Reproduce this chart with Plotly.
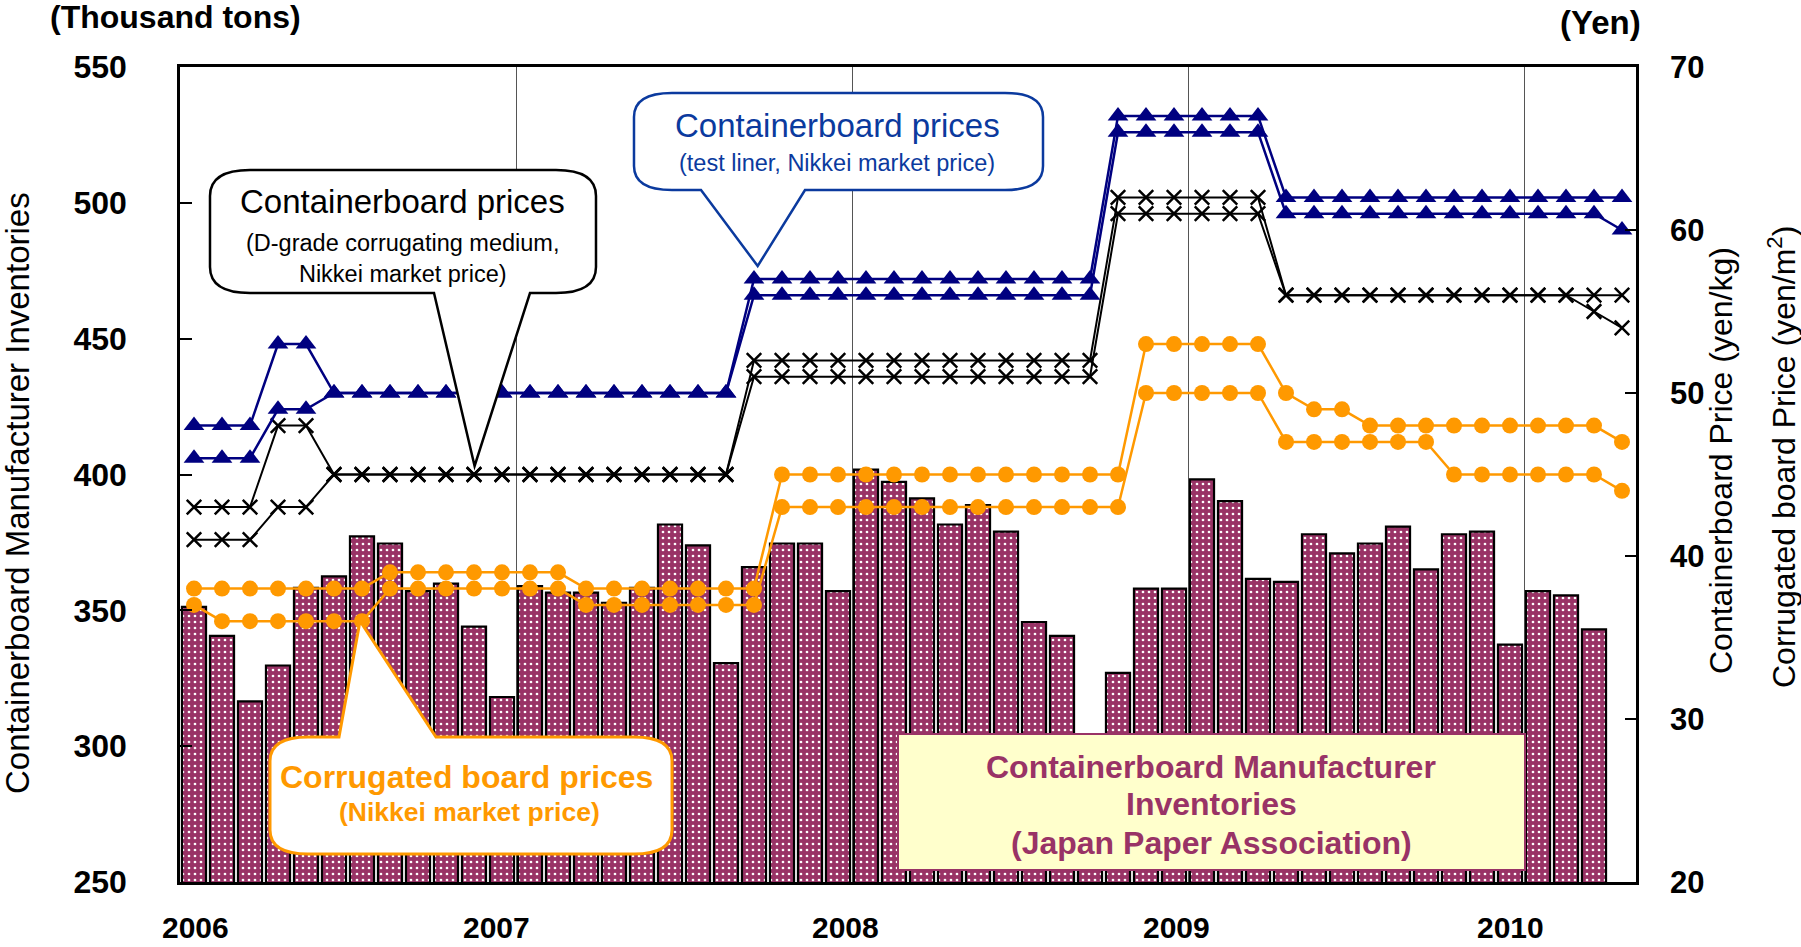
import plotly.graph_objects as go

# ---------------- data ----------------
months = [f"{y}-{m:02d}" for y in range(2006, 2011) for m in range(1, 13)][:52]

# Containerboard manufacturer inventories (thousand tons), Jan 2006 - Mar 2010
inventory = [351.3, 340.6, 316.5, 329.7, 358.3, 362.5, 377.2, 374.6, 357.1, 359.8, 344.0, 318.1,
             358.9, 356.5, 356.5, 352.8, 358.3, 381.6, 373.9, 330.6, 365.9, 374.6, 374.6, 357.1,
             401.8, 397.3, 391.2, 381.6, 388.7, 379.0, 345.7, 340.6, 300.0, 327.0, 358.0, 358.0,
             398.2, 390.2, 361.6, 360.5, 378.0, 371.0, 374.6, 380.8, 365.1, 378.0, 379.0, 337.4,
             357.1, 355.5, 343.0]

# Test liner (yen/kg), high / low
liner_high = [48, 48, 48, 53, 53, 50, 50, 50, 50, 50, 50, 50,
              50, 50, 50, 50, 50, 50, 50, 50, 57, 57, 57, 57,
              57, 57, 57, 57, 57, 57, 57, 57, 57, 67, 67, 67,
              67, 67, 67, 62, 62, 62, 62, 62, 62, 62, 62, 62,
              62, 62, 62, 62]
liner_low = [46, 46, 46, 49, 49, 50, 50, 50, 50, 50, 50, 50,
             50, 50, 50, 50, 50, 50, 50, 50, 56, 56, 56, 56,
             56, 56, 56, 56, 56, 56, 56, 56, 56, 66, 66, 66,
             66, 66, 66, 61, 61, 61, 61, 61, 61, 61, 61, 61,
             61, 61, 61, 60]

# D-grade corrugating medium (yen/kg), high / low
medium_high = [43, 43, 43, 48, 48, 45, 45, 45, 45, 45, 45, 45,
               45, 45, 45, 45, 45, 45, 45, 45, 52, 52, 52, 52,
               52, 52, 52, 52, 52, 52, 52, 52, 52, 62, 62, 62,
               62, 62, 62, 56, 56, 56, 56, 56, 56, 56, 56, 56,
               56, 56, 56, 56]
medium_low = [41, 41, 41, 43, 43, 45, 45, 45, 45, 45, 45, 45,
              45, 45, 45, 45, 45, 45, 45, 45, 51, 51, 51, 51,
              51, 51, 51, 51, 51, 51, 51, 51, 51, 61, 61, 61,
              61, 61, 61, 56, 56, 56, 56, 56, 56, 56, 56, 56,
              56, 56, 55, 54]

# Corrugated board (yen/m2), high / low
board_high = [38, 38, 38, 38, 38, 38, 38, 39, 39, 39, 39, 39,
              39, 39, 38, 38, 38, 38, 38, 38, 38, 45, 45, 45,
              45, 45, 45, 45, 45, 45, 45, 45, 45, 45, 53, 53,
              53, 53, 53, 50, 49, 49, 48, 48, 48, 48, 48, 48,
              48, 48, 48, 47]
board_low = [37, 36, 36, 36, 36, 36, 36, 38, 38, 38, 38, 38,
             38, 38, 37, 37, 37, 37, 37, 37, 37, 43, 43, 43,
             43, 43, 43, 43, 43, 43, 43, 43, 43, 43, 50, 50,
             50, 50, 50, 47, 47, 47, 47, 47, 47, 45, 45, 45,
             45, 45, 45, 44]

year_labels = ["2006", "2007", "2008", "2009", "2010"]
year_label_pos = [0.05, 10.8, 23.25, 35.1, 47.0]
year_bounds = [11.5, 23.5, 35.5, 47.5]
left_ticks = [250, 300, 350, 400, 450, 500, 550]
right_ticks = [20, 30, 40, 50, 60, 70]

# ---------------- layout helpers ----------------
W, H = 1801, 947
L, R, T, B = 180, 1636, 67, 882


def px(x):
    return (x - L) / (R - L)


def py(y):
    return (B - y) / (B - T)


def P(x, y):
    return f"{px(x):.5f},{py(y):.5f}"


def callout(x0, y0, x1, y1, rx, ry, base, tip, side):
    bl, br = base
    tx, ty = tip
    d = f"M {P(x0 + rx, y0)} "
    if side == "top":
        d += f"L {P(bl, y0)} L {P(tx, ty)} L {P(br, y0)} "
    d += (f"L {P(x1 - rx, y0)} Q {P(x1, y0)} {P(x1, y0 + ry)} "
          f"L {P(x1, y1 - ry)} Q {P(x1, y1)} {P(x1 - rx, y1)} ")
    if side == "bottom":
        d += f"L {P(br, y1)} L {P(tx, ty)} L {P(bl, y1)} "
    d += (f"L {P(x0 + rx, y1)} Q {P(x0, y1)} {P(x0, y1 - ry)} "
          f"L {P(x0, y0 + ry)} Q {P(x0, y0)} {P(x0 + rx, y0)} Z")
    return d


ARIAL = "Liberation Sans, Arial, sans-serif"
NAVY = "#000080"
ORANGE = "#FF9900"
MAROON = "#993366"
BLUE_TXT = "#0B3A9E"

x_all = list(range(len(months)))

fig = go.Figure()

fig.add_trace(go.Bar(
    x=x_all[:len(inventory)], y=inventory, width=0.86,
    marker=dict(color=MAROON, line=dict(color="black", width=2.2),
                pattern=dict(shape=".", fgcolor="white", bgcolor=MAROON,
                             size=6, solidity=0.16, fillmode="replace")),
    yaxis="y", hoverinfo="skip"))

for series, sym, col, lw, ms in [
        (medium_high, "x-thin", "black", 2, 14.5),
        (medium_low, "x-thin", "black", 2, 14.5),
        (liner_high, "triangle-up", NAVY, 2.5, 18),
        (liner_low, "triangle-up", NAVY, 2.5, 18),
        (board_high, "circle", ORANGE, 2.5, 16),
        (board_low, "circle", ORANGE, 2.5, 16)]:
    if sym == "x-thin":
        marker = dict(symbol=sym, size=ms, line=dict(color=col, width=2.5), color=col)
    else:
        marker = dict(symbol=sym, size=ms, color=col, line=dict(width=0))
    fig.add_trace(go.Scatter(x=x_all, y=series, yaxis="y2", mode="lines+markers",
                             line=dict(color=col, width=lw), marker=marker,
                             hoverinfo="skip"))

shapes = [
    # black callout (D-grade corrugating medium)
    dict(type="path", xref="paper", yref="paper",
         path=callout(210, 170, 596, 293, 40, 26, (434, 530), (474.6, 466), "bottom"),
         line=dict(color="black", width=2.5), fillcolor="white", layer="above"),
    # blue callout (test liner)
    dict(type="path", xref="paper", yref="paper",
         path=callout(634, 93, 1043, 190, 38, 24, (701, 805), (757.7, 266), "bottom"),
         line=dict(color=BLUE_TXT, width=2.5), fillcolor="white", layer="above"),
    # orange callout (corrugated board)
    dict(type="path", xref="paper", yref="paper",
         path=callout(270, 737, 672, 854, 38, 24, (339, 436), (360, 621), "top"),
         line=dict(color=ORANGE, width=3), fillcolor="white", layer="above"),
    # yellow box
    dict(type="rect", xref="paper", yref="paper",
         x0=px(898), x1=px(1525), y0=py(734), y1=py(870),
         line=dict(color=MAROON, width=2), fillcolor="#FFFFCC", layer="above"),
]

ann = []


def add_text(text, x, y, size, color="black", family=ARIAL, weight="normal", angle=0):
    ann.append(dict(text=text, x=px(x), y=py(y), xref="paper", yref="paper",
                    showarrow=False, textangle=angle, xanchor="center", yanchor="middle",
                    font=dict(family=family, size=size, color=color, weight=weight)))


add_text("Containerboard prices", 402, 201, 33)
add_text("(D-grade corrugating medium,<br>Nikkei market price)", 402, 258, 23.5)
add_text("Containerboard prices", 837, 125, 33, color=BLUE_TXT)
add_text("(test liner, Nikkei market price)", 837, 163, 23.5, color=BLUE_TXT)
add_text("Corrugated board prices", 466, 777, 32, color=ORANGE, weight="bold")
add_text("(Nikkei market price)", 469, 812, 26.5, color=ORANGE, weight="bold")
add_text("Containerboard Manufacturer", 1211, 767, 32, color=MAROON, weight="bold")
add_text("Inventories", 1211, 804, 32, color=MAROON, weight="bold")
add_text("(Japan Paper Association)", 1211, 843, 32, color=MAROON, weight="bold")
add_text("(Thousand tons)", 175, 17, 32, weight="bold")
add_text("(Yen)", 1600, 22, 33, weight="bold")
add_text("Containerboard Manufacturer Inventories", 17, 493, 33, angle=-90)
add_text("Containerboard Price (yen/kg)", 1721, 461, 32, angle=-90)
add_text("Corrugated board Price (yen/m<sup>2</sup>)", 1782, 457, 32, angle=-90)
for lab, pos in zip(year_labels, year_label_pos):
    ann.append(dict(text=lab, x=pos, y=py(928), xref="x", yref="paper", showarrow=False,
                    xanchor="center", yanchor="middle",
                    font=dict(family=ARIAL, size=30, color="black", weight="bold")))

fig.update_layout(
    width=W, height=H,
    margin=dict(l=L, r=W - R, t=T, b=H - B, autoexpand=False),
    paper_bgcolor="white", plot_bgcolor="white", showlegend=False,
    xaxis=dict(range=[-0.5, 51.5], tickvals=year_bounds, showticklabels=False, ticks="",
               showgrid=True, gridcolor="#555555", gridwidth=1, zeroline=False,
               showline=True, linecolor="black", linewidth=2.5, mirror=True),
    yaxis=dict(range=[250, 550], tickvals=left_ticks, ticks="inside", ticklen=12,
               tickwidth=1.5, tickcolor="black", showline=True, linecolor="black",
               linewidth=2.5, showgrid=False, zeroline=False, ticklabelstandoff=44,
               tickfont=dict(family=ARIAL, size=32, color="black", weight="bold")),
    yaxis2=dict(range=[20, 70], tickvals=right_ticks, overlaying="y", side="right",
                ticks="inside", ticklen=11, tickwidth=1.5, tickcolor="black",
                showline=True, linecolor="black", linewidth=2.5, showgrid=False,
                zeroline=False, ticklabelstandoff=25,
                tickfont=dict(family=ARIAL, size=31, color="black", weight="bold")),
    shapes=shapes, annotations=ann,
)

fig.write_html("out.html", config={"displayModeBar": False},
               post_script="document.body.style.margin='0px';"
                           "document.body.style.overflow='hidden';")
